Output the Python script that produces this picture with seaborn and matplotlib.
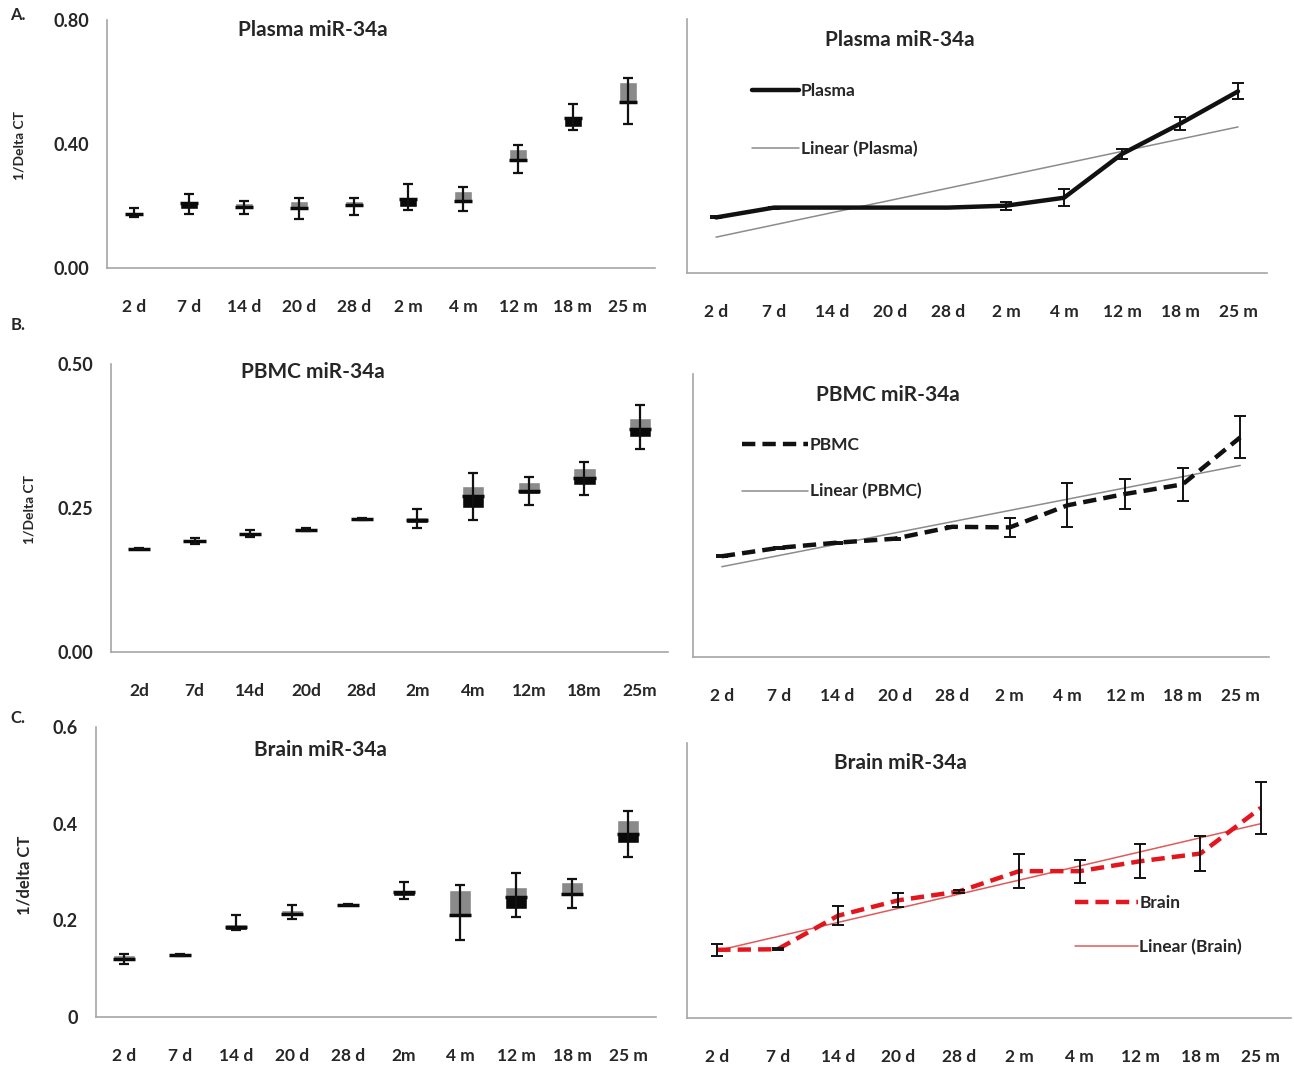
import numpy as np
import matplotlib
matplotlib.use("Agg")
import matplotlib.pyplot as plt
import seaborn as sns

sns.set_style("white")
plt.rcParams['font.family'] = ['Lato', 'DejaVu Sans']

# category labels (as printed under each panel)
lab_a = ["2 d", "7 d", "14 d", "20 d", "28 d", "2 m", "4 m", "12 m", "18 m", "25 m"]
lab_b_left = ["2d", "7d", "14d", "20d", "28d", "2m", "4m", "12m", "18m", "25m"]
lab_c_left = ["2 d", "7 d", "14 d", "20 d", "28 d", "2m", "4 m", "12 m", "18 m", "25 m"]

# box-plot values: q1, median, q3, min, max
plasma_q1  = [0.170, 0.190, 0.195, 0.190, 0.197, 0.197, 0.215, 0.345, 0.455, 0.532]
plasma_med = [0.175, 0.210, 0.198, 0.193, 0.203, 0.222, 0.217, 0.348, 0.485, 0.535]
plasma_q3  = [0.178, 0.215, 0.210, 0.215, 0.215, 0.228, 0.248, 0.384, 0.490, 0.600]
plasma_lo  = [0.166, 0.175, 0.175, 0.157, 0.172, 0.186, 0.185, 0.307, 0.445, 0.466]
plasma_hi  = [0.195, 0.238, 0.215, 0.225, 0.225, 0.270, 0.261, 0.397, 0.530, 0.612]

pbmc_q1  = [0.178, 0.189, 0.201, 0.210, 0.230, 0.224, 0.250, 0.275, 0.290, 0.373]
pbmc_med = [0.179, 0.192, 0.204, 0.212, 0.231, 0.230, 0.270, 0.279, 0.302, 0.387]
pbmc_q3  = [0.180, 0.196, 0.207, 0.213, 0.232, 0.235, 0.289, 0.296, 0.319, 0.406]
pbmc_lo  = [0.178, 0.188, 0.200, 0.210, 0.230, 0.215, 0.230, 0.255, 0.273, 0.353]
pbmc_hi  = [0.180, 0.198, 0.211, 0.215, 0.232, 0.249, 0.311, 0.304, 0.330, 0.428]

brain_q1  = [0.116, 0.127, 0.181, 0.209, 0.231, 0.250, 0.212, 0.224, 0.252, 0.361]
brain_med = [0.121, 0.128, 0.187, 0.214, 0.232, 0.259, 0.212, 0.248, 0.254, 0.378]
brain_q3  = [0.128, 0.129, 0.193, 0.221, 0.233, 0.262, 0.262, 0.268, 0.279, 0.407]
brain_lo  = [0.110, 0.126, 0.181, 0.203, 0.231, 0.245, 0.159, 0.206, 0.226, 0.332]
brain_hi  = [0.131, 0.130, 0.212, 0.231, 0.233, 0.279, 0.274, 0.298, 0.286, 0.426]

# line-plot means and error bars
plasma_mean = [0.175, 0.206, 0.206, 0.206, 0.206, 0.212, 0.237, 0.375, 0.470, 0.572]
plasma_err  = [0.003, 0.003, 0.002, 0.002, 0.002, 0.012, 0.027, 0.017, 0.020, 0.025]
pbmc_mean = [0.178, 0.193, 0.202, 0.209, 0.230, 0.229, 0.268, 0.288, 0.305, 0.388]
pbmc_err  = [0.002, 0.002, 0.002, 0.002, 0.001, 0.017, 0.039, 0.026, 0.029, 0.037]
brain_mean = [0.124, 0.125, 0.186, 0.214, 0.230, 0.267, 0.267, 0.285, 0.299, 0.382]
brain_err  = [0.011, 0.002, 0.017, 0.013, 0.002, 0.031, 0.021, 0.031, 0.032, 0.048]

W, H = 1294, 1068
fig = plt.figure(figsize=(W / 100, H / 100), dpi=100)

def px(l, t, r, b):
    return [l / W, 1 - b / H, (r - l) / W, (b - t) / H]

axis_col = "#a6a6a6"
gray = "#8a8a8a"

def style_axis(ax, ylim, yticks, ylabels, xlabels):
    ax.set_xlim(-0.5, 9.5)
    ax.set_ylim(*ylim)
    for s in ["top", "right"]:
        ax.spines[s].set_visible(False)
    for s in ["left", "bottom"]:
        ax.spines[s].set_color(axis_col)
        ax.spines[s].set_linewidth(1.2)
    ax.set_yticks(yticks)
    ax.set_yticklabels(ylabels, fontsize=13, fontweight="bold")
    ax.tick_params(axis="y", length=5, color=axis_col, pad=8)
    ax.set_xticks(np.arange(10))
    ax.set_xticklabels(xlabels, fontsize=12.5, fontweight="bold")
    ax.set_xticks(np.arange(-0.5, 10, 1), minor=True)
    ax.tick_params(axis="x", which="major", length=0, pad=22)
    ax.tick_params(axis="x", which="minor", length=6, color=axis_col)
    ax.set_xlabel("")
    ax.set_ylabel("")

def box_panel(rect, q1, med, q3, lo, hi, ylim, yticks, ylabels, xlabels, title, tpos, width):
    ax = fig.add_axes(px(*rect))
    x = np.arange(len(med))
    q1, med, q3 = np.array(q1), np.array(med), np.array(q3)
    ax.bar(x, med - q1, bottom=q1, width=width, color="#0a0a0a", zorder=2)
    ax.bar(x, q3 - med, bottom=med, width=width, color=gray, zorder=2)
    ax.hlines(med, x - width / 2, x + width / 2, color="#0a0a0a", lw=2.5, zorder=3)
    ax.vlines(x, lo, hi, color="#111111", lw=1.6, zorder=4)
    ax.hlines(lo, x - 0.09, x + 0.09, color="#111111", lw=1.6, zorder=4)
    ax.hlines(hi, x - 0.09, x + 0.09, color="#111111", lw=1.6, zorder=4)
    style_axis(ax, ylim, yticks, ylabels, xlabels)
    fig.text(tpos[0] / W, 1 - tpos[1] / H, title, fontsize=15, fontweight="bold",
             ha="center", va="center")
    return ax

def line_panel(rect, mean, err, ylim, yticks, color, ls, lin_color, name, title, tpos, leg):
    ax = fig.add_axes(px(*rect))
    x = np.arange(len(mean))
    sns.lineplot(x=x, y=mean, ax=ax, color=color, lw=3.2, linestyle=ls, label=name,
                 errorbar=None, zorder=3)
    ax.errorbar(x, mean, yerr=err, fmt="none", ecolor="#111111", elinewidth=1.4,
                capsize=4, capthick=1.4, zorder=4)
    sns.regplot(x=x, y=mean, ax=ax, scatter=False, ci=None,
                line_kws=dict(color=lin_color, lw=1.1, zorder=2), label=f"Linear ({name})")
    style_axis(ax, ylim, yticks, [""] * len(yticks), lab_a)
    ax.tick_params(axis="y", length=5)
    fig.text(tpos[0] / W, 1 - tpos[1] / H, title, fontsize=15, fontweight="bold",
             ha="center", va="center")
    h, l = ax.get_legend_handles_labels()
    ax.legend(h, l, loc="upper left", bbox_to_anchor=(leg[0] / W, 1 - leg[1] / H),
              bbox_transform=fig.transFigure, frameon=False,
              prop=dict(size=12.5, weight="bold"),
              handlelength=leg[2], handletextpad=0.1, labelspacing=leg[3], borderpad=0,
              borderaxespad=0)
    return ax

# A
box_panel((107, 20, 655, 268), plasma_q1, plasma_med, plasma_q3, plasma_lo, plasma_hi,
          (0, 0.8), [0, 0.4, 0.8], ["0.00", "0.40", "0.80"], lab_a,
          "Plasma miR-34a", (313, 30), 0.33)
line_panel((687, 19, 1267, 273), plasma_mean, plasma_err, (0, 0.8), [0, 0.4, 0.8],
           "#111111", "-", "#8c8c8c", "Plasma", "Plasma miR-34a", (900, 40),
           (752, 83, 2.7, 2.4))

# B
box_panel((111, 364, 668, 652), pbmc_q1, pbmc_med, pbmc_q3, pbmc_lo, pbmc_hi,
          (0, 0.5), [0, 0.25, 0.5], ["0.00", "0.25", "0.50"], lab_b_left,
          "PBMC miR-34a", (313, 372), 0.4)
line_panel((693, 374, 1269, 657), pbmc_mean, pbmc_err, (0, 0.5), [0, 0.25, 0.5],
           "#111111", (0, (3, 1.6)), "#8c8c8c", "PBMC", "PBMC miR-34a", (888, 395),
           (742, 437, 3.8, 1.75))

# C
box_panel((96, 727, 656, 1017), brain_q1, brain_med, brain_q3, brain_lo, brain_hi,
          (0, 0.6), [0, 0.2, 0.4, 0.6], ["0", "0.2", "0.4", "0.6"], lab_c_left,
          "Brain miR-34a", (320, 750), 0.4)
line_panel((687, 743, 1291, 1018), brain_mean, brain_err, (0, 0.5), [0, 0.25, 0.5],
           "#e3161e", (0, (3, 1.6)), "#e05a5a", "Brain", "Brain miR-34a", (900, 763),
           (1075, 895, 3.6, 1.6))

# panel letters and y labels
for txt, (x, y) in zip(["A.", "B.", "C."], [(18, 15), (18, 325), (18, 718)]):
    fig.text(x / W, 1 - y / H, txt, fontsize=12, fontweight="bold", ha="center", va="center")
for txt, (x, y), fs in zip(["1/Delta CT", "1/Delta CT", "1/delta CT"],
                           [(20, 145), (30, 510), (25, 875)], [10, 10, 12]):
    fig.text(x / W, 1 - y / H, txt, fontsize=fs, fontweight="bold", rotation=90,
             ha="center", va="center")

fig.savefig("out.png", dpi=100)
